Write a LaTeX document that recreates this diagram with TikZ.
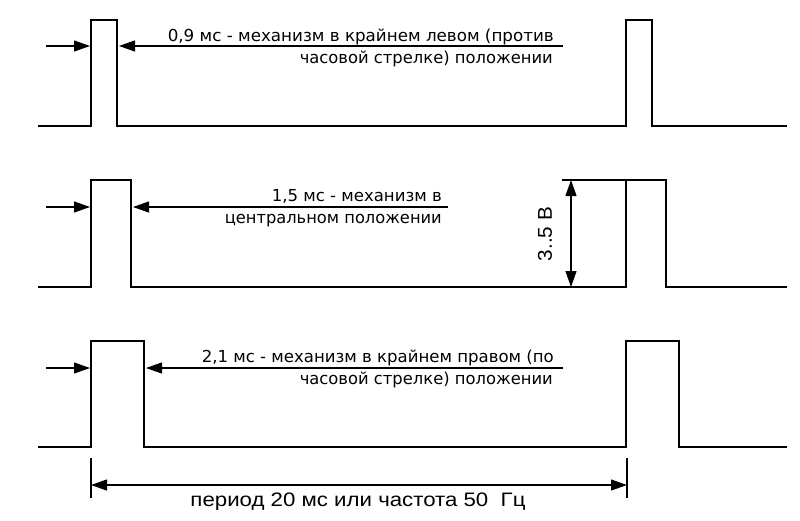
\documentclass[tikz,border=0pt]{standalone}
\usepackage{fontspec}
\setmainfont{DejaVu Sans}
\newfontfamily\arialf{Liberation Sans}
\usetikzlibrary{arrows.meta}
\newcommand{\fitw}[2]{\resizebox{#1pt}{\height}{#2}}
\begin{document}
\begin{tikzpicture}[x=1pt,y=-1pt,
  wave/.style={line width=2.6pt,line join=miter},
  dim/.style={line width=1.1pt,-{Triangle[length=16pt,width=11pt]}},
  dimboth/.style={line width=1.1pt,{Triangle[length=16pt,width=11pt]}-{Triangle[length=16pt,width=11pt]}},
  thin/.style={line width=1.1pt},
  lbl/.style={font=\fontsize{16.5}{18}\selectfont,inner sep=0pt},
  lbla/.style={font=\arialf\fontsize{19.5}{21}\selectfont,inner sep=0pt}]
\useasboundingbox[fill=white] (0,0) rectangle (800,520);
% row 1
\draw[wave] (38,126) -- (91,126) -- (91,20) -- (117,20) -- (117,126) -- (626,126) -- (626,20) -- (652,20) -- (652,126) -- (787,126);
\coordinate (a1s) at (46,46); \coordinate (a1t) at (90,46);
\coordinate (b1s) at (563,46); \coordinate (b1t) at (119,46);
\draw[dim] (a1s) -- (a1t);
\draw[dim] (b1s) -- (b1t);
\node[lbl,anchor=base east] (t1a) at (554,41) {\fitw{386}{0,9 мс - механизм в крайнем левом (против}};
\node[lbl,anchor=base east] (t1b) at (553,63) {\fitw{253}{часовой стрелке) положении}};
% row 2
\draw[wave] (38,287) -- (91,287) -- (91,180) -- (131,180) -- (131,287) -- (626,287) -- (626,180) -- (666,180) -- (666,287) -- (787,287);
\coordinate (a2s) at (46,207); \coordinate (a2t) at (90,207);
\coordinate (b2s) at (448,207); \coordinate (b2t) at (133,207);
\draw[dim] (a2s) -- (a2t);
\draw[dim] (b2s) -- (b2t);
\node[lbl,anchor=base east] (t2a) at (442,201) {\fitw{170}{1,5 мс - механизм в}};
\node[lbl,anchor=base east] (t2b) at (442,223) {\fitw{217}{центральном положении}};
\coordinate (h2a) at (562,180); \coordinate (h2b) at (626,180);
\draw[thin] (h2a) -- (h2b);
\coordinate (v2t) at (571,180); \coordinate (v2b) at (571,287);
\draw[dimboth] (v2t) -- (v2b);
\node[inner sep=0pt,rotate=90,font=\arialf\fontsize{20}{22}\selectfont] (v2l) at (545,234) {\fitw{54}{3..5 В}};
% row 3
\draw[wave] (38,447) -- (91,447) -- (91,341) -- (144,341) -- (144,447) -- (626,447) -- (626,341) -- (679,341) -- (679,447) -- (787,447);
\coordinate (a3s) at (46,368); \coordinate (a3t) at (90,368);
\coordinate (b3s) at (563,368); \coordinate (b3t) at (146,368);
\draw[dim] (a3s) -- (a3t);
\draw[dim] (b3s) -- (b3t);
\node[lbl,anchor=base east] (t3a) at (554,362) {\fitw{352}{2,1 мс - механизм в крайнем правом (по}};
\node[lbl,anchor=base east] (t3b) at (553,384) {\fitw{253}{часовой стрелке) положении}};
% period
\coordinate (p1t) at (91,458); \coordinate (p1b) at (91,498);
\coordinate (p2t) at (627,458); \coordinate (p2b) at (627,498);
\draw[thin] (p1t) -- (p1b);
\draw[thin] (p2t) -- (p2b);
\draw[dimboth] (p1t|-0,485) -- (p2t|-0,485);
\node[lbla,anchor=base] (pt) at (358,506) {\fitw{335}{период 20 мс или частота 50~~Гц}};
\end{tikzpicture}
\end{document}
